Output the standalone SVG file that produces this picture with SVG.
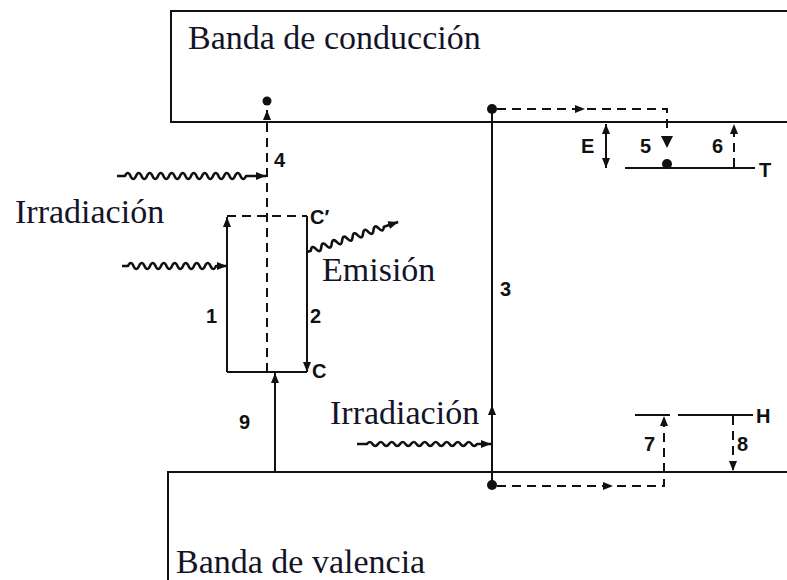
<svg xmlns="http://www.w3.org/2000/svg" width="787" height="580" viewBox="0 0 787 580">
<style>
.ln{fill:none;stroke:#111;stroke-width:2}
.ds{fill:none;stroke:#111;stroke-width:2;stroke-dasharray:9 6}
.wv{fill:none;stroke:#111;stroke-width:2.6;stroke-linejoin:round}
.big{font-family:"Liberation Serif","Times New Roman",serif;font-size:34px;fill:#141428}
.lb{font-family:"Liberation Sans",Arial,sans-serif;font-size:20px;font-weight:bold;fill:#111}
.dot{fill:#111}
</style>
<defs>
<marker id="arr" viewBox="0 0 10 8" refX="10" refY="4" markerWidth="10" markerHeight="8" markerUnits="userSpaceOnUse" orient="auto-start-reverse">
<path d="M0,0 L10,4 L0,8 z" fill="#111"/>
</marker>
<path id="ah" d="M0,0 L-10,-4 L-10,4 z" fill="#111"/>
</defs>

<g id="banda-conduccion">
<path class="ln" d="M787,11 H171 V122 H787"/>
<text class="big" x="188" y="49">Banda de conducción</text>
</g>

<g id="banda-valencia">
<path class="ln" d="M787,472 H168 V580"/>
<text class="big" x="176" y="573">Banda de valencia</text>
</g>

<g id="nivel-T">
<line class="ln" x1="625" y1="168" x2="755" y2="168"/>
<text class="lb" x="759" y="177">T</text>
</g>

<g id="nivel-H">
<line class="ln" x1="635" y1="415" x2="670" y2="415"/>
<line class="ln" x1="678" y1="415" x2="753" y2="415"/>
<text class="lb" x="756" y="423">H</text>
</g>

<g id="textos">
<text class="big" x="15" y="223">Irradiación</text>
<text class="big" x="322" y="281">Emisión</text>
<text class="big" x="330" y="424">Irradiación</text>
</g>

<g id="connectors">
<!-- 4 -->
<circle class="dot" cx="267" cy="101" r="4.5"/>
<line class="ds" x1="267" y1="372" x2="267" y2="110" marker-end="url(#arr)"/>
<text class="lb" x="274" y="167">4</text>

<!-- box 1 / 2 -->
<line class="ln" x1="227" y1="372" x2="227" y2="217" marker-end="url(#arr)"/>
<line class="ds" x1="227" y1="216" x2="307" y2="216"/>
<line class="ln" x1="307" y1="216" x2="307" y2="372" marker-end="url(#arr)"/>
<line class="ln" x1="227" y1="372" x2="307" y2="372"/>
<text class="lb" x="206" y="323">1</text>
<text class="lb" x="310" y="323">2</text>
<text class="lb" x="310" y="224">C′</text>
<text class="lb" x="312" y="378">C</text>

<!-- 9 -->
<line class="ln" x1="275" y1="472" x2="275" y2="373" marker-end="url(#arr)"/>
<text class="lb" x="239" y="429">9</text>

<!-- 3 -->
<line class="ln" x1="492" y1="109" x2="492" y2="485"/>
<line class="ln" x1="492" y1="420" x2="492" y2="405" marker-end="url(#arr)"/>
<circle class="dot" cx="492" cy="109" r="5"/>
<circle class="dot" cx="492" cy="485" r="5"/>
<text class="lb" x="500" y="296">3</text>

<!-- 5 -->
<path class="ds" d="M497,109 H667 V134"/>
<use href="#ah" x="585" y="109"/>
<path d="M661,136 L673,136 L667,148 z" fill="#111"/>
<circle class="dot" cx="667" cy="164" r="5"/>
<text class="lb" x="640" y="153">5</text>

<!-- E -->
<line class="ln" x1="606" y1="124" x2="606" y2="168" marker-start="url(#arr)" marker-end="url(#arr)"/>
<text class="lb" x="581" y="153">E</text>

<!-- 6 -->
<line class="ds" x1="734" y1="167" x2="734" y2="124" marker-end="url(#arr)"/>
<text class="lb" x="712" y="153">6</text>

<!-- 7 -->
<path class="ds" d="M497,486 H664 V472"/>
<use href="#ah" x="613" y="486"/>
<line class="ds" x1="664" y1="472" x2="664" y2="416" marker-end="url(#arr)"/>
<text class="lb" x="644" y="451">7</text>

<!-- 8 -->
<line class="ds" x1="733" y1="416" x2="733" y2="471" marker-end="url(#arr)"/>
<text class="lb" x="737" y="451">8</text>

<!-- wavy arrows -->
<path class="wv" marker-end="url(#arr)" d="M117,176 H125 q2.75,-6 5.5,0 t5.5,0 t5.5,0 t5.5,0 t5.5,0 t5.5,0 t5.5,0 t5.5,0 t5.5,0 t5.5,0 t5.5,0 t5.5,0 t5.5,0 t5.5,0 t5.5,0 t5.5,0 t5.5,0 t5.5,0 t5.5,0 t5.5,0 t5.5,0 t5.5,0 L266,176"/>
<path class="wv" marker-end="url(#arr)" d="M122,266 H128 q2.75,-6 5.5,0 t5.5,0 t5.5,0 t5.5,0 t5.5,0 t5.5,0 t5.5,0 t5.5,0 t5.5,0 t5.5,0 t5.5,0 t5.5,0 t5.5,0 t5.5,0 t5.5,0 t5.5,0 L227,266"/>
<path class="wv" marker-end="url(#arr)" d="M357,444 H367 q2.75,-4 5.5,0 t5.5,0 t5.5,0 t5.5,0 t5.5,0 t5.5,0 t5.5,0 t5.5,0 t5.5,0 t5.5,0 t5.5,0 t5.5,0 t5.5,0 t5.5,0 t5.5,0 t5.5,0 t5.5,0 t5.5,0 t5.5,0 t5.5,0 L491,444"/>
<path class="wv" marker-end="url(#arr)" transform="translate(307,252) rotate(-18.2)" d="M0,0 H4 q2.75,-6 5.5,0 t5.5,0 t5.5,0 t5.5,0 t5.5,0 t5.5,0 t5.5,0 t5.5,0 t5.5,0 t5.5,0 t5.5,0 t5.5,0 t5.5,0 t5.5,0 L96,0"/>
</g>
</svg>
